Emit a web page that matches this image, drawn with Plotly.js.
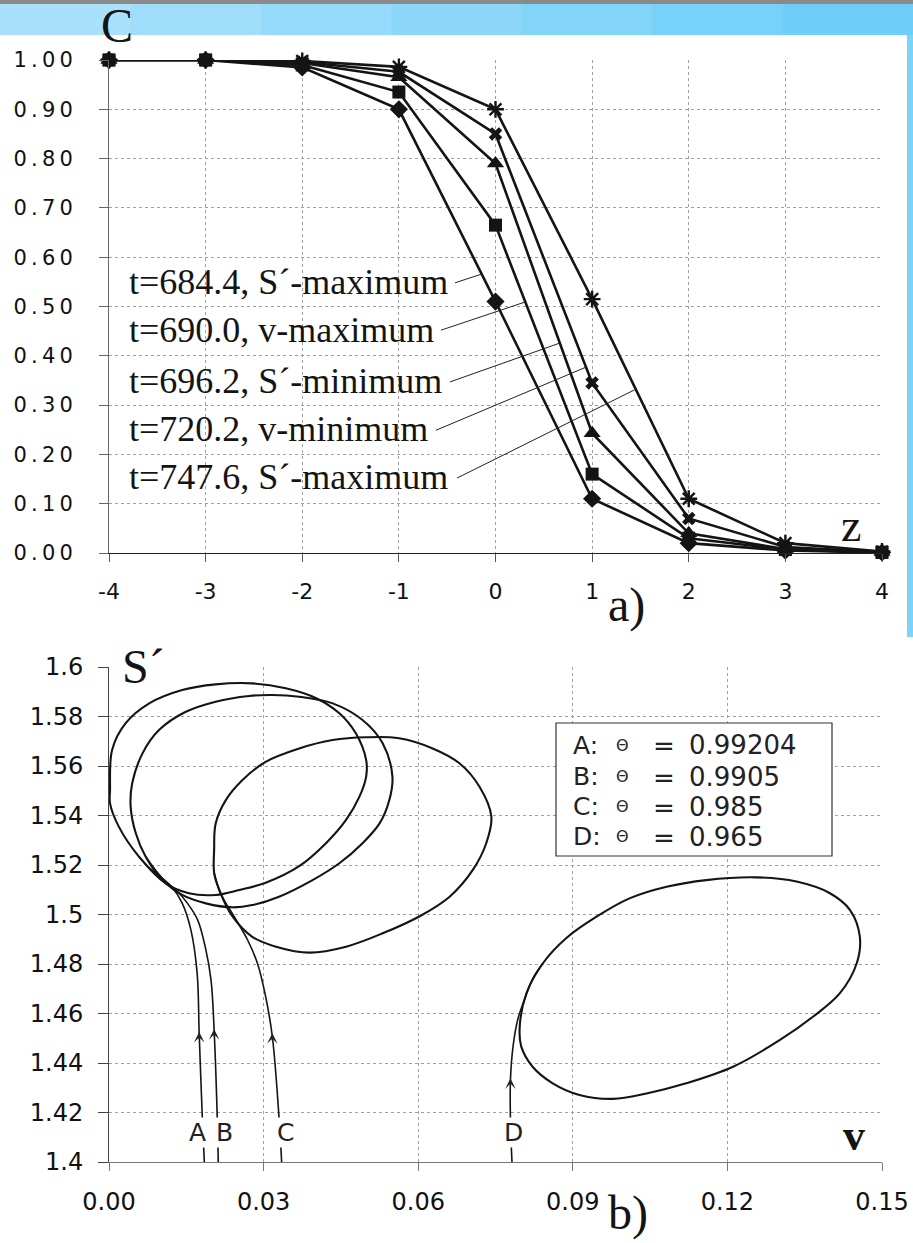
<!DOCTYPE html>
<html><head><meta charset="utf-8">
<script src="https://cdn.plot.ly/plotly-3.0.1.min.js"></script>
<style>html,body{margin:0;padding:0;background:#fff;}#chart{width:913px;height:1243px;}</style>
</head><body><div id="chart"></div>
<script>
// ---------- panel a) data ----------
const zVals = [-4, -3, -2, -1, 0, 1, 2, 3, 4];
const zTickText = ['-4', '-3', '-2', '-1', '0', '1', '2', '3', '4'];
const C_t684 = [1.00, 1.00, 0.985, 0.900, 0.510, 0.110, 0.020, 0.005, 0.001];
const C_t690 = [1.00, 1.00, 0.990, 0.935, 0.665, 0.160, 0.030, 0.007, 0.001];
const C_t696 = [1.00, 1.00, 0.994, 0.965, 0.790, 0.243, 0.040, 0.008, 0.002];
const C_t720 = [1.00, 1.00, 0.996, 0.976, 0.850, 0.345, 0.070, 0.012, 0.002];
const C_t747 = [1.00, 1.00, 0.998, 0.986, 0.900, 0.515, 0.110, 0.020, 0.003];
const seriesLabels = ['t=684.4, S\u00b4-maximum', 't=690.0, v-maximum', 't=696.2, S\u00b4-minimum',
                      't=720.2, v-minimum', 't=747.6, S\u00b4-maximum'];
const cTickVals = [0, 0.1, 0.2, 0.3, 0.4, 0.5, 0.6, 0.7, 0.8, 0.9, 1.0];
const cTickText = ['0.00', '0.10', '0.20', '0.30', '0.40', '0.50', '0.60', '0.70', '0.80', '0.90', '1.00'];

// ---------- panel b) data ----------
const vTickVals = [0, 0.03, 0.06, 0.09, 0.12, 0.15];
const vTickText = ['0.00', '0.03', '0.06', '0.09', '0.12', '0.15'];
const sTickVals = [1.4, 1.42, 1.44, 1.46, 1.48, 1.5, 1.52, 1.54, 1.56, 1.58, 1.6];
const sTickText = ['1.4', '1.42', '1.44', '1.46', '1.48', '1.5', '1.52', '1.54', '1.56', '1.58', '1.6'];

const loopA_v = [0.0002,0.0006,0.0032,0.0078,0.0142,0.0207,0.0278,0.0343,0.0402,0.0447,0.0479,0.0499,0.0499,0.0486,0.0460,0.0421,0.0369,0.0304,0.0253,0.0207,0.0155,0.0110,0.0058,0.0019,0.0002,0.0002];
const loopA_S = [1.5503,1.5665,1.5772,1.5853,1.5907,1.5930,1.5934,1.5914,1.5874,1.5813,1.5732,1.5624,1.5557,1.5476,1.5382,1.5288,1.5195,1.5128,1.5099,1.5079,1.5086,1.5126,1.5234,1.5355,1.5449,1.5503];
const loopB_v = [0.0042,0.0045,0.0065,0.0097,0.0149,0.0207,0.0272,0.0317,0.0369,0.0434,0.0492,0.0531,0.0550,0.0544,0.0525,0.0492,0.0447,0.0395,0.0330,0.0278,0.0240,0.0188,0.0142,0.0104,0.0071,0.0052,0.0042];
const loopB_S = [1.5436,1.5530,1.5651,1.5745,1.5819,1.5860,1.5883,1.5887,1.5880,1.5853,1.5786,1.5692,1.5557,1.5463,1.5368,1.5288,1.5207,1.5139,1.5072,1.5038,1.5029,1.5045,1.5079,1.5139,1.5234,1.5328,1.5436];
const loopC_v = [0.0204,0.0207,0.0227,0.0259,0.0304,0.0369,0.0434,0.0499,0.0563,0.0628,0.0680,0.0719,0.0742,0.0732,0.0706,0.0661,0.0602,0.0531,0.0460,0.0389,0.0324,0.0278,0.0240,0.0214,0.0204,0.0204];
const loopC_S = [1.5261,1.5368,1.5463,1.5543,1.5617,1.5671,1.5705,1.5716,1.5712,1.5671,1.5611,1.5516,1.5395,1.5288,1.5180,1.5072,1.4992,1.4924,1.4870,1.4846,1.4870,1.4910,1.4991,1.5099,1.5168,1.5261];
const loopD_v = [0.0797,0.0810,0.0842,0.0887,0.0946,0.1010,0.1082,0.1159,0.1256,0.1334,0.1399,0.1438,0.1457,0.1451,0.1418,0.1366,0.1302,0.1211,0.1120,0.1043,0.0978,0.0913,0.0861,0.0822,0.0800,0.0797];
const loopD_S = [1.4547,1.4681,1.4803,1.4904,1.4991,1.5065,1.5112,1.5139,1.5150,1.5133,1.5086,1.5018,1.4910,1.4803,1.4681,1.4587,1.4493,1.4385,1.4318,1.4277,1.4255,1.4271,1.4318,1.4385,1.4466,1.4547];

const trajA_v = [0.0185,0.0181,0.0175,0.0171,0.0159,0.0142,0.0122,0.0103,0.0080,0.0058];
const trajA_S = [1.400,1.4183,1.4521,1.4764,1.4937,1.5046,1.5111,1.5147,1.5185,1.5234];
const trajB_v = [0.0212,0.0210,0.0204,0.0198,0.0188,0.0172,0.0152,0.0130,0.0110,0.0090,0.0071];
const trajB_S = [1.400,1.4183,1.4533,1.4735,1.4857,1.4978,1.5046,1.5099,1.5133,1.5180,1.5234];
const trajC_v = [0.0335,0.0330,0.0317,0.0304,0.0288,0.0269,0.0243,0.0223,0.0214,0.0204];
const trajC_S = [1.400,1.4178,1.4506,1.4668,1.4803,1.4897,1.4991,1.5059,1.5099,1.5168];
const trajD_v = [0.0782,0.0779,0.0779,0.0784,0.0793,0.0806,0.0822,0.0842];
const trajD_S = [1.400,1.4170,1.4331,1.4466,1.4574,1.4655,1.4740,1.4803];

const curveNames = ['A', 'B', 'C', 'D'];
const thetaVals = ['0.99204', '0.9905', '0.985', '0.965'];

// ---------- layout helpers (pixel -> paper) ----------
const L = 109, R = 882, T = 60, B = 1162;
const PX = px => (px - L) / (R - L);
const PY = py => (B - py) / (B - T);

const ink = '#141414';
const lineStyle = {color: ink, width: 2.6};
const traces = [];
const cSeries = [C_t684, C_t690, C_t696, C_t720, C_t747];
const markers = [
  {symbol: 'diamond', size: 14, color: ink},
  {symbol: 'square', size: 13, color: ink},
  {symbol: 'triangle-up', size: 15, color: ink},
  {symbol: 'x', size: 12, color: ink, line: {width: 0}},
  {symbol: 'asterisk-open', size: 14, color: ink, line: {width: 2.4, color: ink}}
];
const drawOrder = [0, 3, 4, 2, 1];
drawOrder.forEach(i => traces.push({
  type: 'scatter', mode: 'lines+markers', x: zVals, y: cSeries[i], xaxis: 'x', yaxis: 'y',
  line: lineStyle, marker: markers[i], cliponaxis: false, showlegend: false, hoverinfo: 'skip'
}));

const loops = [[loopA_v, loopA_S], [loopB_v, loopB_S], [loopC_v, loopC_S], [loopD_v, loopD_S]];
loops.forEach(([vx, sy]) => traces.push({
  type: 'scatter', mode: 'lines', x: vx, y: sy, xaxis: 'x2', yaxis: 'y2',
  line: {color: ink, width: 2.1, shape: 'spline', smoothing: 1}, showlegend: false, hoverinfo: 'skip', cliponaxis: false
}));
const trajs = [[trajA_v, trajA_S], [trajB_v, trajB_S], [trajC_v, trajC_S], [trajD_v, trajD_S]];
trajs.forEach(([vx, sy]) => traces.push({
  type: 'scatter', mode: 'lines', x: vx, y: sy, xaxis: 'x2', yaxis: 'y2',
  line: {color: ink, width: 1.6, shape: 'spline', smoothing: 1}, showlegend: false, hoverinfo: 'skip'
}));

// ---------- annotations ----------
const serif = 'Liberation Serif, Times New Roman, serif';
const sansW = 'DejaVu Sans, Liberation Sans, sans-serif';
const ann = [];
const paperText = (px, py, text, font, xanchor) => ann.push({
  xref: 'paper', yref: 'paper', x: PX(px), y: PY(py), text, showarrow: false,
  xanchor: xanchor || 'center', yanchor: 'middle', font
});
// axis letters and panel labels
paperText(117, 26, 'C', {family: serif, size: 48, color: ink});
paperText(851, 525, 'z', {family: serif, size: 46, color: ink});
paperText(626, 605, 'a)', {family: serif, size: 48, color: ink});
paperText(143, 666, 'S\u00b4', {family: serif, size: 48, color: ink});
paperText(854, 1135, '<b>v</b>', {family: serif, size: 44, color: ink});
paperText(628, 1213, 'b)', {family: serif, size: 48, color: ink});

// series labels (panel a)
const labelY = [0.550, 0.452, 0.349, 0.252, 0.154];
seriesLabels.forEach((t, i) => ann.push({
  xref: 'x', yref: 'y', x: -3.814, y: labelY[i], xanchor: 'left', yanchor: 'middle', text: t,
  showarrow: false, font: {family: serif, size: 36, color: ink}
}));
// leader lines (layout positions, not data)
const leaders = [[-0.419, 0.548, -0.14, 0.566], [-0.564, 0.452, 0.305, 0.509], [-0.471, 0.347, 0.668, 0.426],
                 [-0.616, 0.249, 0.937, 0.377], [-0.398, 0.152, 1.44, 0.331]];

// curve labels on trajectories (panel b)
const nameX = [0.0172, 0.0225, 0.0342, 0.0784];
curveNames.forEach((n, i) => ann.push({
  xref: 'x2', yref: 'y2', x: nameX[i], y: 1.4118, xanchor: 'center', yanchor: 'middle', text: n, showarrow: false,
  bgcolor: '#ffffff', borderpad: 0,
  font: {family: 'DejaVu Sans ExtraLight, DejaVu Sans, sans-serif', size: 25, color: '#222'}
}));
// direction carets
const caretX = [0.0175, 0.0204, 0.0317, 0.0779];
const caretY = [1.4525, 1.4537, 1.4520, 1.4338];
caretX.forEach((cx, i) => ann.push({
  xref: 'x2', yref: 'y2', x: cx, y: caretY[i], ax: 0, ay: 9, text: '', showarrow: true,
  arrowhead: 3, arrowsize: 1.6, arrowwidth: 1.1, arrowcolor: '#222'
}));

// theta legend (panel b)
const legRowY = [745, 776.5, 806.5, 836.5];
curveNames.forEach((n, i) => {
  const py = legRowY[i];
  paperText(571, py, n + ':', {family: sansW, size: 25, color: '#222'}, 'left');
  paperText(622, py, '\u0398', {family: sansW, size: 16, color: '#222'});
  paperText(664, py + 1, '=', {family: sansW, size: 26, color: '#222'});
  paperText(687, py, thetaVals[i], {family: sansW, size: 26, color: '#222'}, 'left');
});

// ---------- shapes ----------
const shapes = [];
// decorative page frame (top band, right strip)
shapes.push({type: 'rect', xref: 'paper', yref: 'paper', x0: PX(0), x1: PX(913), y0: PY(4), y1: PY(0), fillcolor: '#8a8a8a', line: {width: 0}, layer: 'below'});
const bandCols = ['#a9e0fb', '#a0ddfb', '#96dafb', '#8cd7fa', '#82d4f9', '#78d1f8', '#6ecef7'];
bandCols.forEach((c, i) => shapes.push({type: 'rect', xref: 'paper', yref: 'paper',
  x0: PX(i * 913 / bandCols.length), x1: PX((i + 1) * 913 / bandCols.length + 1), y0: PY(35), y1: PY(4),
  fillcolor: c, line: {width: 0}, layer: 'below'}));
shapes.push({type: 'rect', xref: 'paper', yref: 'paper', x0: PX(907), x1: PX(914), y0: PY(637), y1: PY(35), fillcolor: '#7cd5f8', line: {width: 0}, layer: 'below'});
// leaders
leaders.forEach(([x0, y0, x1, y1]) => shapes.push({type: 'line', xref: 'x', yref: 'y', x0, y0, x1, y1, line: {color: '#222', width: 1}}));
// theta legend box
shapes.push({type: 'rect', xref: 'paper', yref: 'paper', x0: PX(556), x1: PX(832), y0: PY(856), y1: PY(723),
  fillcolor: '#ffffff', line: {color: '#333', width: 1.2}});

const gridCol = '#a0a0a0';
const layout = {
  width: 913, height: 1243,
  margin: {l: L, r: 913 - R, t: T, b: 1243 - B},
  paper_bgcolor: '#ffffff', plot_bgcolor: '#ffffff',
  showlegend: false,
  xaxis: {domain: [0, 1], anchor: 'y', range: [-4, 4], tickvals: zVals, ticktext: zTickText,
    showline: true, linecolor: '#222', linewidth: 1.2, ticks: 'outside', ticklen: 8, tickcolor: '#555', tickwidth: 1,
    showgrid: true, gridcolor: gridCol, griddash: 'dot', gridwidth: 1, zeroline: false,
    tickfont: {family: sansW, size: 22, color: '#111'}, ticklabelstandoff: 10},
  yaxis: {domain: [PY(553), 1], anchor: 'x', range: [0, 1], tickvals: cTickVals,
    ticktext: cTickText.map(s => s.split('').join('\u2009')),
    showline: true, linecolor: '#666', linewidth: 1, ticks: 'outside', ticklen: 9, tickcolor: '#666',
    showgrid: true, gridcolor: gridCol, griddash: 'dot', gridwidth: 1, zeroline: false,
    tickfont: {family: sansW, size: 21, color: '#111'}, ticklabelstandoff: 22},
  xaxis2: {domain: [0, 1], anchor: 'y2', range: [0, 0.15], tickvals: vTickVals, ticktext: vTickText,
    showline: true, linecolor: '#777', linewidth: 1.2, ticks: 'outside', ticklen: 8, tickcolor: '#777',
    showgrid: true, gridcolor: gridCol, griddash: 'dot', gridwidth: 1, zeroline: false,
    tickfont: {family: sansW, size: 24, color: '#111'}, ticklabelstandoff: 10},
  yaxis2: {domain: [0, PY(667)], anchor: 'x2', range: [1.4, 1.6], tickvals: sTickVals, ticktext: sTickText,
    showline: true, linecolor: '#444', linewidth: 1, ticks: 'outside', ticklen: 10, tickcolor: '#444',
    showgrid: true, gridcolor: gridCol, griddash: 'dot', gridwidth: 1, zeroline: false,
    tickfont: {family: sansW, size: 24, color: '#111'}, ticklabelstandoff: 10},
  annotations: ann,
  shapes: shapes
};

Plotly.newPlot('chart', traces, layout, {staticPlot: true, displayModeBar: false});
</script>
</body></html>
